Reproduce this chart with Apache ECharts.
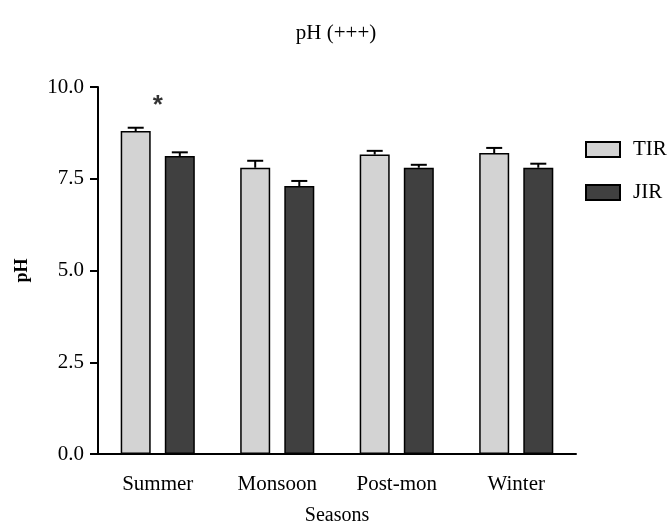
<!DOCTYPE html>
<html>
<head>
<meta charset="utf-8">
<script src="https://cdn.jsdelivr.net/npm/echarts@6/dist/echarts.min.js"></script>
<style>html,body{margin:0;padding:0;background:#fff}#c{width:672px;height:526px}</style>
</head>
<body>
<div id="c"></div>
<script>
var categories = ['Summer', 'Monsoon', 'Post-mon', 'Winter'];
var tirValues = [8.80, 7.80, 8.16, 8.20];
var tirErrors = [0.09, 0.19, 0.10, 0.14];
var jirValues = [8.12, 7.30, 7.80, 7.80];
var jirErrors = [0.10, 0.14, 0.08, 0.11];
var yTicks = [0, 2.5, 5, 7.5, 10];
var markCategory = 'Summer';
var markValue = 9.5;

var FONT = '"Liberation Serif", "Times New Roman", serif';
var BAR_W = 30;
var BAR_GAP = 0.47;
var halfOffset = (BAR_W + BAR_W * BAR_GAP) / 2;

function errSeries(name, vals, errs, dir) {
  return {
    type: 'custom',
    name: name + ' err',
    z: 1,
    silent: true,
    data: vals.map(function (v, i) { return [i, v, v + errs[i]]; }),
    renderItem: function (params, api) {
      var base = api.coord([api.value(0), api.value(1)]);
      var top = api.coord([api.value(0), api.value(2)]);
      var x = base[0] + dir * halfOffset;
      return {
        type: 'group',
        children: [
          { type: 'line', shape: { x1: x, y1: base[1], x2: x, y2: top[1] }, style: { stroke: '#000', lineWidth: 2 } },
          { type: 'line', shape: { x1: x - 8, y1: top[1], x2: x + 8, y2: top[1] }, style: { stroke: '#000', lineWidth: 2 } }
        ]
      };
    }
  };
}

var chart = echarts.init(document.getElementById('c'));
chart.setOption({
  animation: false,
  backgroundColor: '#fff',
  title: {
    text: 'pH (+++)',
    left: 'center',
    top: 18,
    textStyle: { fontFamily: FONT, fontSize: 21, fontWeight: 'normal', color: '#000' }
  },
  legend: {
    orient: 'vertical',
    left: 580,
    top: 134,
    itemWidth: 34,
    itemHeight: 15,
    itemGap: 22,
    icon: 'rect',
    data: ['TIR', 'JIR'],
    textStyle: { fontFamily: FONT, fontSize: 21, color: '#000', padding: [0, 0, 0, 8] }
  },
  grid: { left: 98, right: 96, top: 87, bottom: 72, containLabel: false, outerBoundsMode: 'none' },
  xAxis: {
    type: 'category',
    data: categories,
    name: 'Seasons',
    nameLocation: 'middle',
    nameGap: 52,
    nameTextStyle: { fontFamily: FONT, fontSize: 20, color: '#000' },
    axisLine: { lineStyle: { color: '#000', width: 2 } },
    axisTick: { show: false },
    axisLabel: { fontFamily: FONT, fontSize: 21, color: '#000', margin: 20 }
  },
  yAxis: {
    type: 'value',
    min: 0,
    max: 10,
    interval: 2.5,
    name: 'pH',
    nameLocation: 'middle',
    nameGap: 67,
    nameTextStyle: { fontFamily: FONT, fontSize: 18, fontWeight: 'bold', color: '#000' },
    axisLine: { show: true, lineStyle: { color: '#000', width: 2 } },
    axisTick: { show: true, length: 8, lineStyle: { color: '#000', width: 2 } },
    splitLine: { show: false },
    axisLabel: {
      fontFamily: FONT, fontSize: 21, color: '#000', margin: 14,
      formatter: function (v) { return yTicks.indexOf(v) >= 0 ? v.toFixed(1) : ''; }
    }
  },
  series: [
    {
      name: 'TIR', type: 'bar', data: tirValues, barWidth: BAR_W, barGap: (BAR_GAP * 100) + '%', z: 2,
      itemStyle: { color: '#d3d3d3', borderColor: '#000', borderWidth: 1.5 }
    },
    {
      name: 'JIR', type: 'bar', data: jirValues, barWidth: BAR_W, z: 2,
      itemStyle: { color: '#404040', borderColor: '#000', borderWidth: 1.5 }
    },
    errSeries('TIR', tirValues, tirErrors, -1),
    errSeries('JIR', jirValues, jirErrors, 1),
    {
      type: 'scatter',
      name: 'sig',
      symbolSize: 0,
      silent: true,
      data: [[markCategory, markValue]],
      label: {
        show: true, position: 'inside', formatter: '*',
        fontFamily: '"Liberation Sans", Arial, sans-serif', fontSize: 26, fontWeight: 'bold', color: '#000'
      }
    }
  ]
});
</script>
</body>
</html>
